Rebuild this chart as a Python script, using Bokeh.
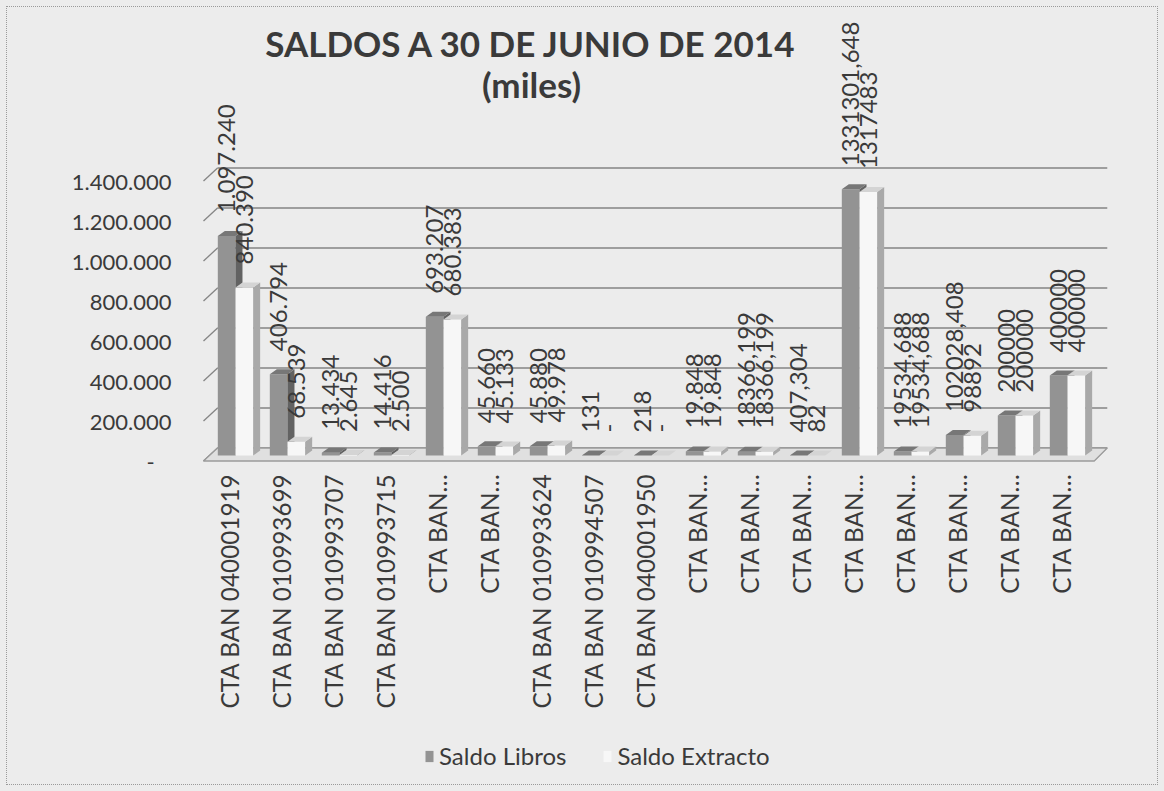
import math
from bokeh.plotting import figure
from bokeh.layouts import column
from bokeh.models import Range1d, LinearAxis, FixedTicker, Label, Legend, LegendItem
from bokeh.embed import file_html
from bokeh.resources import INLINE
from bokeh.core.properties import value

# ---------------- DATA ----------------
categories = [
    "CTA BAN 040001919", "CTA BAN 010993699", "CTA BAN 010993707", "CTA BAN 010993715",
    "CTA BAN\u2026", "CTA BAN\u2026", "CTA BAN 010993624", "CTA BAN 010994507",
    "CTA BAN 040001950", "CTA BAN\u2026", "CTA BAN\u2026", "CTA BAN\u2026",
    "CTA BAN\u2026", "CTA BAN\u2026", "CTA BAN\u2026", "CTA BAN\u2026", "CTA BAN\u2026",
]
saldo_libros = [1097240, 406794, 13434, 14416, 693207, 45660, 45880, 131, 218, 19848,
                18366.199, 407.304, 1331301.648, 19534.688, 102028.408, 200000, 400000]
saldo_extracto = [840390, 68539, 2645, 2500, 680383, 45133, 49978, 0, 0, 19848,
                  18366.199, 82, 1317483, 19534.688, 98892, 200000, 400000]
libros_labels = ["1.097.240", "406.794", "13.434", "14.416", "693.207", "45.660", "45.880",
                 "131", "218", "19.848", "18366,199", "407,304", "1331301,648", "19534,688",
                 "102028,408", "200000", "400000"]
extracto_labels = ["840.390", "68.539", "2.645", "2.500", "680.383", "45.133", "49.978",
                   "-", "-", "19.848", "18366,199", "82", "1317483", "19534,688",
                   "98892", "200000", "400000"]
y_ticks = [0, 200000, 400000, 600000, 800000, 1000000, 1200000, 1400000]
y_tick_labels = ["-\u00a0\u00a0\u00a0", "200.000", "400.000", "600.000", "800.000",
                 "1.000.000", "1.200.000", "1.400.000"]
series_names = ["Saldo Libros", "Saldo Extracto"]
title_lines = ["SALDOS A 30 DE JUNIO DE 2014", "(miles)"]

# ---------------- STYLE / GEOMETRY ----------------
FONT = "Lato"
TXT = "#3a3a3a"
BG = "#ececec"
W, H1, H2 = 1164, 725, 66
UPX = 5000.0            # value units per pixel (vertical)
BW = 0.34               # bar width (category units)
OFF = [-0.055, 0.285]   # series offsets
DX = 7 / 52.0           # 3D depth, x
DY = 5 * UPX            # 3D depth, y
BACK = 7.5 * UPX        # back wall shift
FRONT = -5.5 * UPX      # front edge shift
LBL_GAP = 23 * UPX
n = len(categories)
colors = [("#939393", "#626262", "#777777"), ("#f7f7f7", "#a9a9a9", "#d4d4d4")]

p = figure(width=W, height=H1, output_backend="svg", toolbar_location=None,
           x_range=Range1d(-0.84615, 16.94231), y_range=Range1d(-75000, 2250000),
           y_axis_location=None,
           min_border_left=185, min_border_right=54, min_border_top=5, min_border_bottom=255)
p.background_fill_alpha = 0
p.border_fill_alpha = 0
p.outline_line_color = None
p.xgrid.grid_line_color = None
p.ygrid.grid_line_color = None

# x axis
xa = p.xaxis[0]
xa.ticker = FixedTicker(ticks=list(range(n)))
xa.major_label_overrides = {i: c for i, c in enumerate(categories)}
xa.major_label_orientation = math.pi / 2
xa.axis_line_color = None
xa.major_tick_line_color = None
xa.minor_tick_line_color = None
xa.major_tick_out = 0
xa.major_tick_in = 0
xa.minor_tick_out = 0
xa.major_label_text_font = FONT
xa.major_label_text_font_size = "24.3px"
xa.major_label_text_color = TXT
xa.major_label_standoff = 3

# y axis (front plane)
p.extra_y_ranges = {"lab": Range1d(-47500, 2277500)}
ya = LinearAxis(y_range_name="lab", ticker=FixedTicker(ticks=y_ticks),
                major_label_overrides=dict(zip(y_ticks, y_tick_labels)))
ya.axis_line_color = None
ya.major_tick_line_color = None
ya.minor_tick_line_color = None
ya.major_tick_out = 0
ya.major_tick_in = 0
ya.minor_tick_out = 0
ya.major_label_text_font = FONT
ya.major_label_text_font_size = "22px"
ya.major_label_text_color = TXT
ya.major_label_standoff = 14
p.add_layout(ya, "left")

# back wall gridlines and left wall edges
gx0, gx1 = -0.23, (n - 1) + 0.88
fx0, fx1 = -0.5, (n - 1) + 0.63
p.segment(x0=[gx0] * len(y_ticks), x1=[gx1] * len(y_ticks),
          y0=[t + BACK for t in y_ticks], y1=[t + BACK for t in y_ticks],
          line_color="#858585", line_width=1.5)
p.segment(x0=[fx0] * len(y_ticks), x1=[gx0] * len(y_ticks),
          y0=[t + FRONT for t in y_ticks], y1=[t + BACK for t in y_ticks],
          line_color="#858585", line_width=1.3)
# floor
p.patch(x=[gx0, gx1, fx1, fx0], y=[BACK, BACK, FRONT, FRONT],
        fill_color="#e0e0e0", line_color="#9a9a9a", line_width=1.3)

for s, vals in enumerate([saldo_libros, saldo_extracto]):
    front, side, top = colors[s]
    xs = [i + OFF[s] for i in range(n)]
    x0 = [x - BW / 2 for x in xs]
    x1 = [x + BW / 2 for x in xs]
    p.vbar(x=xs, top=vals, bottom=0, width=BW, fill_color=front, line_color=None)
    p.patches(xs=[[a, a + DX, a + DX, a] for a in x1],
              ys=[[0, DY, v + DY, v] for v in vals],
              fill_color=side, line_color=None)
    p.patches(xs=[[a, a + DX, b + DX, b] for a, b in zip(x0, x1)],
              ys=[[v, v + DY, v + DY, v] for v in vals],
              fill_color=top, line_color=None)

for s, (vals, labels) in enumerate([(saldo_libros, libros_labels),
                                    (saldo_extracto, extracto_labels)]):
    xs = [i + OFF[s] for i in range(n)]
    p.text(x=xs, y=[v + LBL_GAP for v in vals], text=labels, angle=math.pi / 2,
           text_align="left", text_baseline="middle", text_font=value(FONT),
           text_font_size="24px", text_color=TXT)

# title
p.add_layout(Label(x=5.808, y=2065000, text=title_lines[0], text_align="center",
                   text_baseline="middle", text_font=FONT, text_font_style="bold",
                   text_font_size="35px", text_color=TXT))
p.add_layout(Label(x=5.808, y=1860000, text=title_lines[1], text_align="center",
                   text_baseline="middle", text_font=FONT, text_font_style="bold",
                   text_font_size="35px", text_color=TXT))

# ---------------- legend strip ----------------
p2 = figure(width=W, height=H2, output_backend="svg", toolbar_location=None,
            x_range=Range1d(0, 1), y_range=Range1d(0, 1),
            x_axis_location=None, y_axis_location=None,
            min_border_left=0, min_border_right=0, min_border_top=0, min_border_bottom=0)
p2.background_fill_alpha = 0
p2.border_fill_alpha = 0
p2.outline_line_color = None
p2.xgrid.grid_line_color = None
p2.ygrid.grid_line_color = None
lr = [p2.vbar(x=[0], top=[0], bottom=[0], width=0, fill_color=colors[s][0], line_color=None)
      for s in range(2)]
legend = Legend(items=[LegendItem(label=series_names[s], renderers=[lr[s]]) for s in range(2)],
                orientation="horizontal", location=(239, 21))
legend.glyph_width = 10
legend.glyph_height = 14
legend.label_standoff = 5
legend.spacing = 36
legend.padding = 0
legend.margin = 0
legend.border_line_color = None
legend.background_fill_alpha = 0
legend.label_text_font = FONT
legend.label_text_font_size = "24px"
legend.label_text_color = TXT
p2.add_layout(legend, "center")

layout = column(p, p2, spacing=0)
layout.styles = {"background-color": BG, "outline": "1px dotted #9a9a9a",
                 "outline-offset": "-7px"}
open("out.html", "w").write(file_html(layout, INLINE))
